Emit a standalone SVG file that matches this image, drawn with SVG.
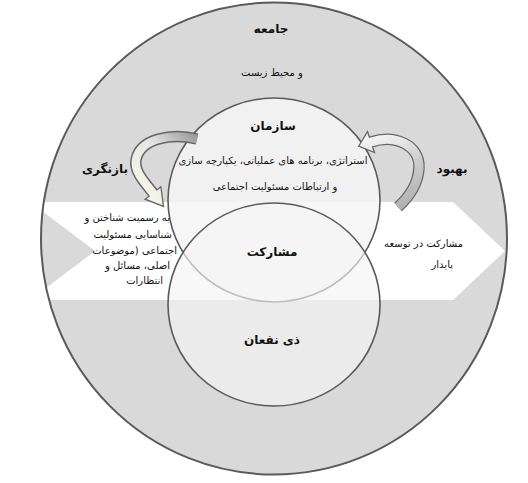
<svg xmlns="http://www.w3.org/2000/svg" width="528" height="483" viewBox="0 0 528 483">
<style>
text{font-family:"DejaVu Sans","Noto Sans",sans-serif;fill:#111;}
.h{font-weight:bold;font-size:12px;text-anchor:middle;}
.b{font-size:10px;}
.m{text-anchor:middle;}
.e{text-anchor:end;}
.ring{stroke:#5a5a5a;fill:none;}
.shaftO{fill:none;stroke:#666;stroke-width:11.5;}
.head{stroke:#666;stroke-width:1.3;stroke-linejoin:miter;}
</style>
<defs>
<clipPath id="outerClip"><ellipse cx="274" cy="238.5" rx="233" ry="236"/></clipPath>
<linearGradient id="gL" gradientUnits="userSpaceOnUse" x1="196" y1="137" x2="142" y2="192">
<stop offset="0" stop-color="#9c9c9c"/><stop offset="0.45" stop-color="#e4e4e4"/><stop offset="1" stop-color="#f7f6ea"/>
</linearGradient>
<linearGradient id="gR" gradientUnits="userSpaceOnUse" x1="400" y1="207" x2="372" y2="140">
<stop offset="0" stop-color="#b2b2b2"/><stop offset="0.5" stop-color="#cdcdcd"/><stop offset="1" stop-color="#f2f2f2"/>
</linearGradient>
</defs>

<g id="society">
<ellipse cx="274" cy="238.5" rx="233" ry="236" fill="#d9d9d9"/>
</g>
<g id="band">
<polygon points="30,202 453,202 505,251 453,300 30,300 95,251" fill="#fff" clip-path="url(#outerClip)"/>
</g>
<g id="organization">
<ellipse cx="274" cy="200" rx="106" ry="102" fill="#f4f4f4" fill-opacity="0.85"/>
<ellipse class="ring" cx="274" cy="200" rx="106" ry="102" stroke-width="1.6"/>
</g>
<g id="stakeholders">
<ellipse cx="274" cy="304.5" rx="106" ry="101.5" fill="#f4f4f4" fill-opacity="0.65"/>
<ellipse class="ring" cx="274" cy="304.5" rx="106" ry="101.5" stroke-width="1.6"/>
</g>
<g id="society-border">
<ellipse class="ring" cx="274" cy="238.5" rx="233" ry="236" stroke-width="2"/>
</g>

<g id="connectors">
<g id="review-arrow">
<path class="shaftO" d="M197,139 C172,133 140,138 136,160 C134,171 144,182 153,193"/>
<polygon class="head" points="160.9,186.8 163.5,206.4 145.1,199.2" fill="url(#gL)"/>
<path fill="none" stroke="url(#gL)" stroke-width="8.5" d="M197,139 C172,133 140,138 136,160 C134,171 144,182 153,193 L155,195.5"/>
</g>
<g id="improve-arrow">
<path class="shaftO" stroke-width="12" d="M398,207 C408,198 418,185 419,168 C420,145 395,134 371,142"/>
<polygon class="head" points="374.5,152.5 358.7,146.1 367.5,131.5" fill="url(#gR)"/>
<path fill="none" stroke="url(#gR)" stroke-width="9" d="M398,207 C408,198 418,185 419,168 C420,145 395,134 371,142 L368,143"/>
</g>
</g>

<g id="labels-society">
<text class="h" x="271" y="33">جامعه</text>
<text class="b m" x="272" y="76">و محیط زیست</text>
</g>
<g id="labels-organization">
<text class="h" x="273" y="130">سازمان</text>
<text class="b m" x="273" y="164">استراتژی، برنامه های عملیاتی، یکپارچه سازی</text>
<text class="b m" x="275" y="190">و ارتباطات مسئولیت اجتماعی</text>
</g>
<g id="labels-review">
<text class="h" x="105" y="173">بازنگری</text>
<text class="b e" x="170" y="221">به رسمیت شناختن و</text>
<text class="b e" x="172" y="238">شناسایی مسئولیت</text>
<text class="b e" x="177" y="254">اجتماعی (موضوعات</text>
<text class="b e" x="170" y="269">اصلی، مسائل و</text>
<text class="b e" x="163" y="284">انتظارات</text>
</g>
<g id="labels-improve">
<text class="h" x="452" y="173">بهبود</text>
<text class="b e" x="463" y="247">مشارکت در توسعه</text>
<text class="b e" x="453" y="268">پایدار</text>
</g>
<g id="labels-center">
<text class="h" x="272" y="256">مشارکت</text>
<text class="h" x="272" y="344">ذی نفعان</text>
</g>
</svg>
